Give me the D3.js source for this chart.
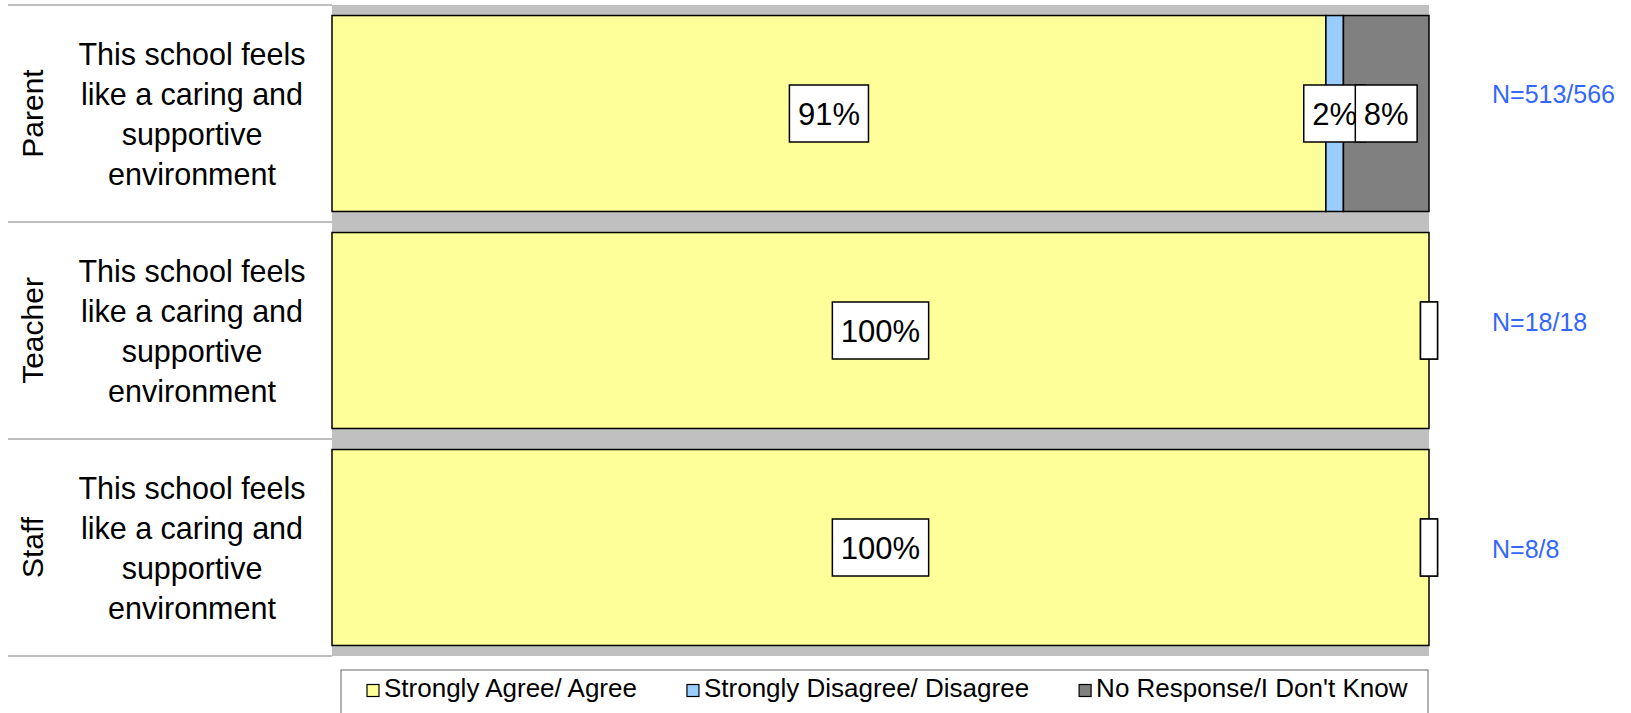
<!DOCTYPE html>
<html>
<head>
<meta charset="utf-8">
<script src="https://cdn.jsdelivr.net/npm/d3@7"></script>
<style>
  html, body { margin: 0; padding: 0; background: #fff; }
  svg { display: block; font-family: "Liberation Sans", Arial, sans-serif; }
</style>
</head>
<body>
<svg id="chart" width="1631" height="713"></svg>
<script>
// ---- data ----
const groups = ["Parent", "Teacher", "Staff"];
const questionLines = ["This school feels", "like a caring and", "supportive", "environment"];
const seriesNames = ["Strongly Agree/ Agree", "Strongly Disagree/ Disagree", "No Response/I Don't Know"];
const agreeValues = [90.6, 100, 100];
const disagreeValues = [1.6, 0, 0];
const noResponseValues = [7.8, 0, 0];
const nLabels = ["N=513/566", "N=18/18", "N=8/8"];
const seriesColors = ["#FFFF99", "#99CCFF", "#808080"];

// ---- build table ----
const keys = ["agree", "disagree", "noresp"];
const table = groups.map((g, i) => ({
  group: g,
  agree: agreeValues[i],
  disagree: disagreeValues[i],
  noresp: noResponseValues[i],
  n: nLabels[i]
}));

const svg = d3.select("#chart");

const plotLeft = 332, plotRight = 1429, plotTop = 5, plotBottom = 656;

const x = d3.scaleLinear().domain([0, 100]).range([plotLeft, plotRight]);
const y = d3.scaleBand().domain(groups).range([plotTop, plotBottom])
  .paddingInner(0.097).paddingOuter(0.0485);
const nY = d3.scalePoint().domain(groups).range([94, 549]);
const color = d3.scaleOrdinal().domain(keys).range(seriesColors);

// plot background
svg.append("rect")
  .attr("x", plotLeft).attr("y", plotTop)
  .attr("width", plotRight - plotLeft).attr("height", plotBottom - plotTop)
  .attr("fill", "#C0C0C0");

// left-side row separators
const step = y.step();
const boundaries = d3.range(groups.length + 1).map(i => plotTop + i * step);
svg.append("g").selectAll("line").data(boundaries).join("line")
  .attr("x1", 8).attr("x2", plotLeft)
  .attr("y1", d => d).attr("y2", d => d)
  .attr("stroke", "#7f7f7f").attr("stroke-width", 1.2);

// group labels (rotated)
svg.append("g").selectAll("text").data(groups).join("text")
  .attr("transform", d => `translate(43,${y(d) + y.bandwidth() / 2}) rotate(-90)`)
  .attr("text-anchor", "middle")
  .attr("font-size", 30)
  .attr("fill", "#000")
  .text(d => d);

// question text
const qg = svg.append("g").selectAll("text").data(groups).join("text")
  .attr("text-anchor", "middle")
  .attr("font-size", 30.5)
  .attr("fill", "#000");
qg.each(function (d) {
  const cy = y(d) + y.bandwidth() / 2;
  d3.select(this).selectAll("tspan").data(questionLines).join("tspan")
    .attr("x", 192)
    .attr("y", (l, i) => cy + (i - 1.5) * 40 + 11.5)
    .text(l => l);
});

// stacked bars
const stacked = d3.stack().keys(keys)(table);
const layers = svg.append("g").selectAll("g").data(stacked).join("g")
  .attr("fill", d => color(d.key));
layers.selectAll("rect").data(d => d).join("rect")
  .attr("x", d => x(d[0]))
  .attr("y", d => y(d.data.group))
  .attr("width", d => x(d[1]) - x(d[0]))
  .attr("height", y.bandwidth())
  .attr("stroke", "#000")
  .attr("stroke-width", 1.5);

// value labels with boxes
const labelFont = 31, padX = 8.5, boxH = 57;
const labelG = svg.append("g");
stacked.forEach(layer => {
  layer.forEach(d => {
    const v = d[1] - d[0];
    const txt = v > 0 ? Math.round(v) + "%" : "";
    const cx = (x(d[0]) + x(d[1])) / 2;
    const cy = y(d.data.group) + y.bandwidth() / 2;
    const g = labelG.append("g");
    const rect = g.append("rect");
    const t = g.append("text")
      .attr("x", cx).attr("y", cy)
      .attr("dy", "0.36em")
      .attr("text-anchor", "middle")
      .attr("font-size", labelFont)
      .attr("fill", "#000")
      .text(txt);
    const w = (txt ? t.node().getComputedTextLength() : 0) + 2 * padX;
    rect.attr("x", cx - w / 2).attr("y", cy - boxH / 2)
      .attr("width", w).attr("height", boxH)
      .attr("fill", "#fff").attr("stroke", "#000").attr("stroke-width", 1.5);
  });
});

// N labels
svg.append("g").selectAll("text").data(table).join("text")
  .attr("x", 1492)
  .attr("y", d => nY(d.group))
  .attr("dy", "0.36em")
  .attr("font-size", 25)
  .attr("fill", "#3366FF")
  .text(d => d.n);

// legend
const legend = svg.append("g");
legend.append("rect")
  .attr("x", 341).attr("y", 670)
  .attr("width", 1428 - 341).attr("height", 60)
  .attr("fill", "#fff").attr("stroke", "#7f7f7f").attr("stroke-width", 1.2);
let lx = 367;
seriesNames.forEach((name, i) => {
  legend.append("rect")
    .attr("x", lx).attr("y", 684.5)
    .attr("width", 12).attr("height", 12)
    .attr("fill", seriesColors[i]).attr("stroke", "#000").attr("stroke-width", 1.2);
  const t = legend.append("text")
    .attr("x", lx + 17).attr("y", 697)
    .attr("font-size", 26)
    .attr("fill", "#000")
    .text(name);
  lx = lx + 17 + t.node().getComputedTextLength() + 50;
});
</script>
</body>
</html>
